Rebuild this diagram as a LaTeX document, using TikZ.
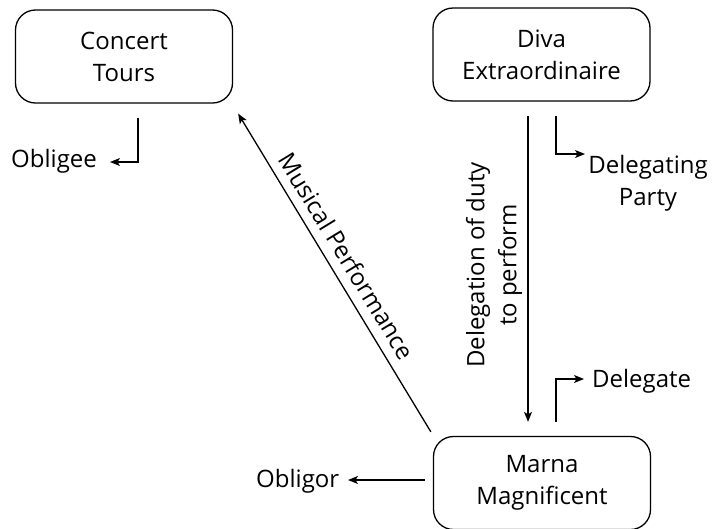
\documentclass[tikz,border=0pt]{standalone}
\usepackage{fontspec}
\setmainfont{Open Sans}
\usetikzlibrary{arrows.meta}
\begin{document}
\begin{tikzpicture}[x=1pt,y=-1pt,
  txt/.style={font=\fontsize{24}{32}\selectfont},
  party/.style={txt, draw, line width=1.3pt, rounded corners=20pt,
    minimum width=217pt, minimum height=93pt, align=center, inner sep=0pt},
  role/.style={txt, inner sep=0pt},
  link/.style={line width=1.3pt, -{Stealth[length=10pt,width=8pt,inset=2.5pt]}}]
\useasboundingbox (0,0) rectangle (714,528);

% parties
\node[party] (tours) at (124,56.5) {Concert\\Tours};
\node[party] (diva)  at (541.5,54.5) {Diva\\Extraordinaire};
\node[party] (marna) at (542,483) {Marna\\Magnificent};

% role labels
\node[role, anchor=base west] (obligee) at (11,167) {Obligee};
\node[role, align=center] (delegating) at (648,183) {Delegating\\Party};
\node[role, anchor=base west] (delegate) at (592,387) {Delegate};
\node[role, anchor=base west] (obligor) at (256,487) {Obligor};

% free ends of the role pointers
\coordinate (obligee-tip) at (110,162);
\coordinate (delegating-tip) at (585,154);
\coordinate (delegate-tip) at (584,379);
\coordinate (obligor-tip) at (348,480);

% role pointers
\draw[link] ([shift={(14,14)}]tours.south) |- (obligee-tip);
\draw[link] ([shift={(14.5,14)}]diva.south) |- (delegating-tip);
\draw[link] ([shift={(14,-14)}]marna.north) |- (delegate-tip);
\draw[link] ([shift={(-8,-3)}]marna.west) -- (obligor-tip);

% delegation of the duty
\draw[link] ([shift={(-13.5,14)}]diva.south) -- ([shift={(-14,-14)}]marna.north);
\node[role, align=center, rotate=90] (duty) at (494,265)
  {Delegation of duty\\to perform};

% performance owed to the obligee
\draw[link] ([shift={(-2,-4)}]marna.north west) -- ([shift={(5,10)}]tours.south east);
\node[role, rotate=-58.6] (perf) at (347,256) {Musical Performance};
\end{tikzpicture}
\end{document}
